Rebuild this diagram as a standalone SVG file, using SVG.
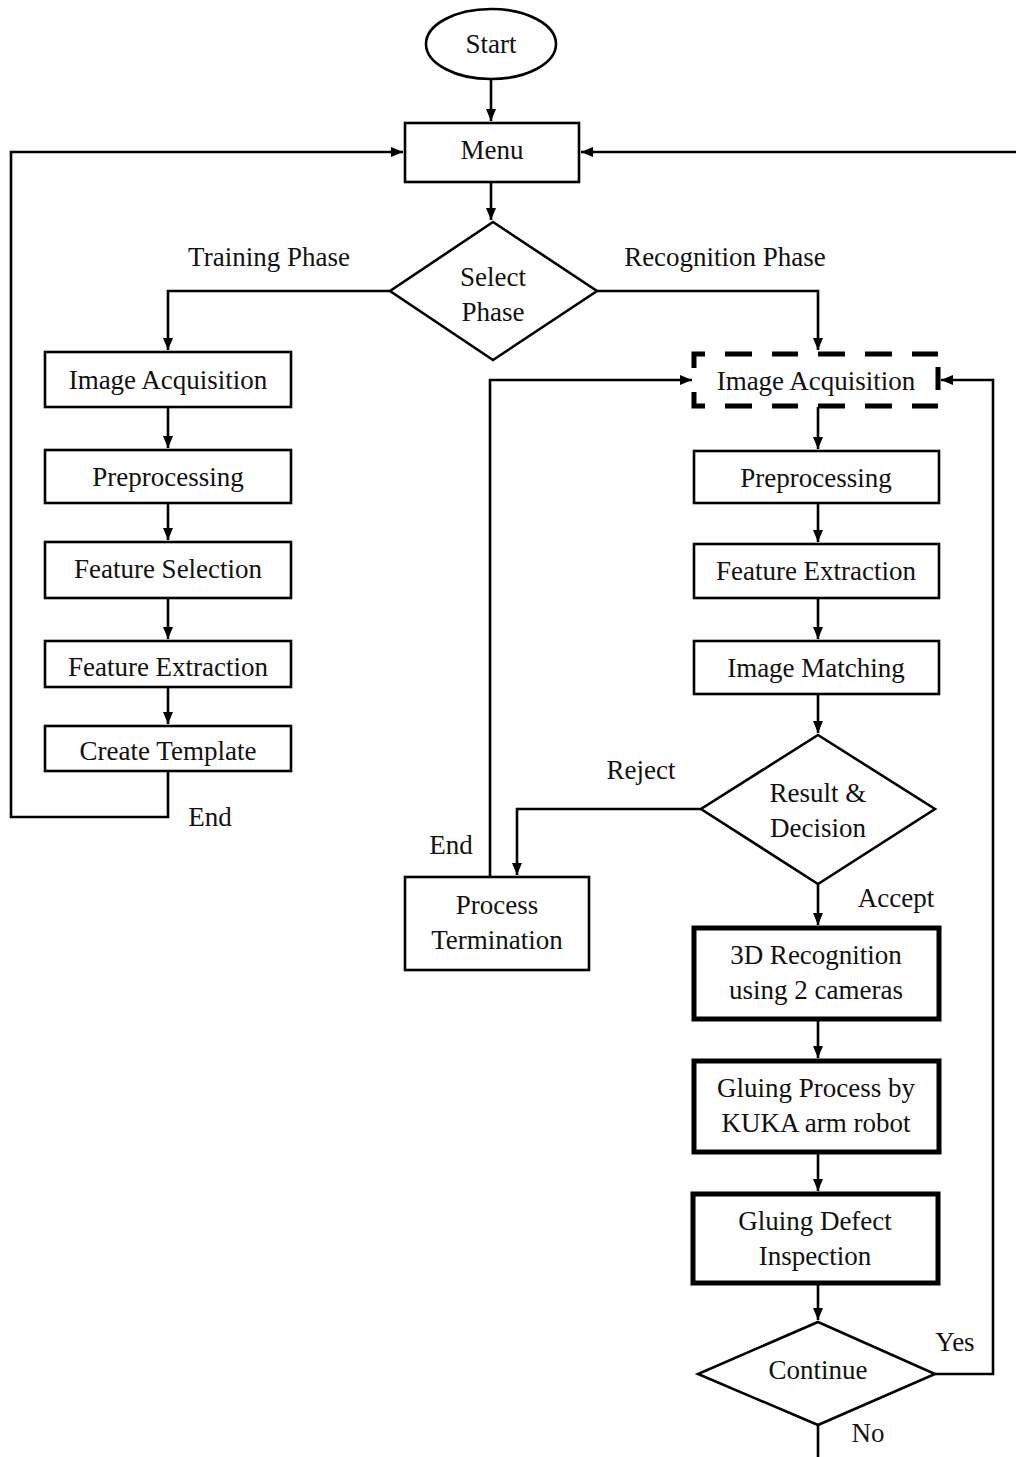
<svg xmlns="http://www.w3.org/2000/svg" width="1016" height="1457" viewBox="0 0 1016 1457">
  <defs>
    <marker id="arrow" markerUnits="userSpaceOnUse" markerWidth="14" markerHeight="14" viewBox="0 0 14 14" refX="12" refY="7" orient="auto">
      <path d="M0,2 L12,7 L0,12 Z" fill="#000"/>
    </marker>
  </defs>
  <style>
    .box { fill: #fff; stroke: #000; stroke-width: 2.6; }
    .bold { fill: #fff; stroke: #000; stroke-width: 5; }
    .dash { fill: none; stroke: #000; stroke-width: 5; }
    .flow { fill: none; stroke: #000; stroke-width: 2.6; }
    .arr { marker-end: url(#arrow); }
    text { font-family: "Liberation Serif", "Times New Roman", serif; font-size: 27px; fill: #111; }
    .c { text-anchor: middle; }
  </style>
  <rect width="1016" height="1457" fill="#fff"/>

  <!-- connectors -->
  <g id="connectors">
    <path class="flow arr" d="M491,80 V121"/>
    <path class="flow arr" d="M491,182 V220"/>
    <!-- select phase branches -->
    <path class="flow arr" d="M390,291 H168 V350"/>
    <path class="flow arr" d="M597,291 H818 V350"/>
    <!-- training column -->
    <path class="flow arr" d="M168,407 V448"/>
    <path class="flow arr" d="M168,503 V540"/>
    <path class="flow arr" d="M168,598 V639"/>
    <path class="flow arr" d="M168,687 V724"/>
    <!-- training end loops back to menu -->
    <path class="flow arr" d="M168,771 V817 H11 V152 H403"/>
    <!-- return path from the right edge into menu -->
    <path class="flow arr" d="M1016,152 H581"/>
    <!-- recognition column -->
    <path class="flow arr" d="M818,407 V449"/>
    <path class="flow arr" d="M818,503 V542"/>
    <path class="flow arr" d="M818,598 V639"/>
    <path class="flow arr" d="M818,694 V733"/>
    <!-- reject branch -->
    <path class="flow arr" d="M701,809 H517 V875"/>
    <!-- termination back to acquisition -->
    <path class="flow arr" d="M490,877 V380 H692"/>
    <!-- accept branch -->
    <path class="flow arr" d="M818,884 V925"/>
    <path class="flow arr" d="M818,1019 V1058"/>
    <path class="flow arr" d="M818,1152 V1191"/>
    <path class="flow arr" d="M818,1283 V1320"/>
    <!-- continue: yes loops back, no exits -->
    <path class="flow arr" d="M935,1374 H993 V380 H941"/>
    <path class="flow" d="M818,1425 V1457"/>
  </g>

  <!-- labels on connectors -->
  <g id="edge-labels">
    <text x="269" y="266" class="c">Training Phase</text>
    <text x="725" y="266" class="c">Recognition Phase</text>
    <text x="210" y="826" class="c">End</text>
    <text x="641" y="779" class="c">Reject</text>
    <text x="451" y="854" class="c">End</text>
    <text x="896" y="907" class="c">Accept</text>
    <text x="955" y="1351" class="c">Yes</text>
    <text x="868" y="1442" class="c">No</text>
  </g>

  <g id="start">
    <ellipse class="box" cx="491" cy="44" rx="65" ry="35"/>
    <text x="491" y="53" class="c">Start</text>
  </g>

  <g id="menu">
    <rect class="box" x="405" y="123" width="174" height="59"/>
    <text x="492" y="159" class="c">Menu</text>
  </g>

  <g id="select-phase">
    <polygon class="box" points="493,222 597,291 493,360 390,291"/>
    <text x="493" y="286" class="c">Select</text>
    <text x="493" y="321" class="c">Phase</text>
  </g>

  <!-- training phase -->
  <g id="train-acquisition">
    <rect class="box" x="45" y="352" width="246" height="55"/>
    <text x="168" y="389" class="c">Image Acquisition</text>
  </g>
  <g id="train-preprocessing">
    <rect class="box" x="45" y="450" width="246" height="53"/>
    <text x="168" y="486" class="c">Preprocessing</text>
  </g>
  <g id="train-selection">
    <rect class="box" x="45" y="542" width="246" height="56"/>
    <text x="168" y="578" class="c">Feature Selection</text>
  </g>
  <g id="train-extraction">
    <rect class="box" x="45" y="641" width="246" height="46"/>
    <text x="168" y="676" class="c">Feature Extraction</text>
  </g>
  <g id="create-template">
    <rect class="box" x="45" y="726" width="246" height="45"/>
    <text x="168" y="760" class="c">Create Template</text>
  </g>

  <!-- recognition phase -->
  <g id="recog-acquisition">
    <rect fill="#fff" x="694" y="354" width="244" height="52"/>
    <path class="dash" d="M705,354 H694 V368 M725,354 H752 M772,354 H798 M818,354 H845 M865,354 H892 M912,354 H938
                          M694,392 V406 H705 M725,406 H752 M772,406 H798 M818,406 H845 M865,406 H892 M912,406 H938
                          M938,367 V390"/>
    <text x="816" y="390" class="c">Image Acquisition</text>
  </g>
  <g id="recog-preprocessing">
    <rect class="box" x="694" y="451" width="245" height="52"/>
    <text x="816" y="487" class="c">Preprocessing</text>
  </g>
  <g id="recog-extraction">
    <rect class="box" x="694" y="544" width="245" height="54"/>
    <text x="816" y="580" class="c">Feature Extraction</text>
  </g>
  <g id="image-matching">
    <rect class="box" x="694" y="641" width="245" height="53"/>
    <text x="816" y="677" class="c">Image Matching</text>
  </g>
  <g id="result-decision">
    <polygon class="box" points="818,735 935,809 818,884 701,809"/>
    <text x="818" y="802" class="c">Result &amp;</text>
    <text x="818" y="837" class="c">Decision</text>
  </g>
  <g id="process-termination">
    <rect class="box" x="405" y="877" width="184" height="93"/>
    <text x="497" y="914" class="c">Process</text>
    <text x="497" y="949" class="c">Termination</text>
  </g>
  <g id="recognition-3d">
    <rect class="bold" x="694" y="928" width="245" height="91"/>
    <text x="816" y="964" class="c">3D Recognition</text>
    <text x="816" y="999" class="c">using 2 cameras</text>
  </g>
  <g id="gluing-process">
    <rect class="bold" x="694" y="1061" width="245" height="91"/>
    <text x="816" y="1097" class="c">Gluing Process by</text>
    <text x="816" y="1132" class="c">KUKA arm robot</text>
  </g>
  <g id="defect-inspection">
    <rect class="bold" x="693" y="1194" width="245" height="89"/>
    <text x="815" y="1230" class="c">Gluing Defect</text>
    <text x="815" y="1265" class="c">Inspection</text>
  </g>
  <g id="continue">
    <polygon class="box" points="818,1322 935,1374 818,1425 698,1374"/>
    <text x="818" y="1379" class="c">Continue</text>
  </g>
</svg>
